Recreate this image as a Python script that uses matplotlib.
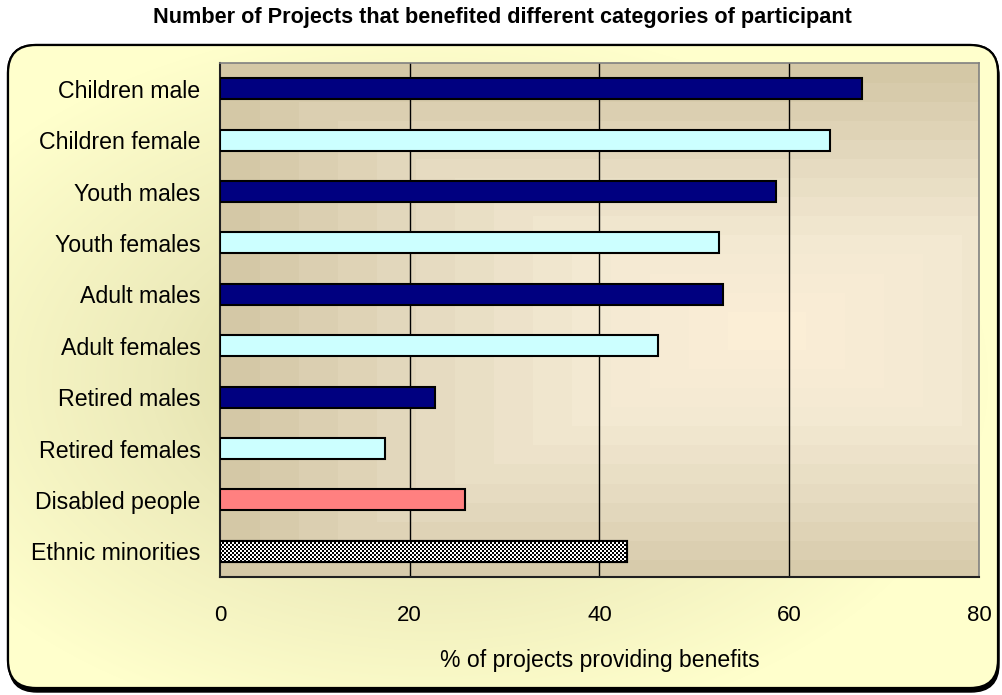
import numpy as np
import matplotlib
matplotlib.use("Agg")
import matplotlib.pyplot as plt
from matplotlib.patches import FancyBboxPatch
from matplotlib.colors import LinearSegmentedColormap

# data
categories = ["Children male", "Children female", "Youth males", "Youth females",
              "Adult males", "Adult females", "Retired males", "Retired females",
              "Disabled people", "Ethnic minorities"]
values = [67.7, 64.3, 58.6, 52.6, 53.0, 46.2, 22.7, 17.4, 25.8, 42.9]
colors = ["#000080", "#CCFFFF", "#000080", "#CCFFFF", "#000080", "#CCFFFF",
          "#000080", "#CCFFFF", "#FF8080", "white"]
x_ticks = [0, 20, 40, 60, 80]

title = "Number of Projects that benefited different categories of participant"
xlabel = "% of projects providing benefits"

W, H = 1003, 695
plt.rcParams['font.family'] = ['Liberation Sans', 'DejaVu Sans']

fig = plt.figure(figsize=(W / 100, H / 100), dpi=100)
fig.patch.set_facecolor("white")

# background axes in pixel coordinates
bg = fig.add_axes([0, 0, 1, 1])
bg.set_xlim(0, W)
bg.set_ylim(H, 0)
bg.axis("off")

# shadow + rounded frame
shadow = FancyBboxPatch((9, 48), 990, 644, boxstyle="round,pad=0,rounding_size=28",
                        facecolor="black", edgecolor="black", lw=1)
bg.add_patch(shadow)
frame = FancyBboxPatch((8, 45), 990, 643, boxstyle="round,pad=0,rounding_size=28",
                       facecolor="#FFFFCC", edgecolor="black", lw=1.6, zorder=2)
bg.add_patch(frame)

# radial gradient inside the frame
yy, xx = np.mgrid[0:H, 0:W]
r = np.sqrt(((xx - 430) / 560.0) ** 2 + ((yy - 380) / 360.0) ** 2)
r = np.clip(r, 0, 1)
cm_bg = LinearSegmentedColormap.from_list("bg", ["#D6D39C", "#EDEBBB", "#FFFFCC"])
img = bg.imshow(r, cmap=cm_bg, extent=(0, W, H, 0), zorder=3, interpolation="bilinear")
img.set_clip_path(frame)
edge = FancyBboxPatch((8, 45), 990, 643, boxstyle="round,pad=0,rounding_size=28",
                      facecolor="none", edgecolor="black", lw=1.6, zorder=4)
bg.add_patch(edge)

fig.text(502 / W, 1 - 17 / H, title, ha="center", va="center",
         fontsize=15.6, fontweight="bold")

# main plot area
left, right, top, bottom = 220, 979, 63, 577
ax = fig.add_axes([left / W, 1 - bottom / H, (right - left) / W, (bottom - top) / H])
ax.set_xlim(0, 80)
ax.set_ylim(len(categories) - 0.5, -0.5)

# stepped rectangular gradient of plot area
ny, nx = bottom - top, right - left
gy, gx = np.mgrid[0:ny, 0:nx]
cx, cy = nx * 0.72, ny * 0.52
d = np.maximum(np.abs(gx - cx) / (nx * 0.72), np.abs(gy - cy) / (ny * 0.52))
d = np.floor(np.clip(d, 0, 0.999) * 14) / 14
cm_pa = LinearSegmentedColormap.from_list("pa", ["#FBEED6", "#F3E9D2", "#E4D9BE", "#D4C8A6"])
ax.imshow(d, cmap=cm_pa, extent=(0, 80, len(categories) - 0.5, -0.5),
          aspect="auto", zorder=0, interpolation="nearest")

for xv in x_ticks[1:-1]:
    ax.axvline(xv, color="black", lw=1, zorder=1)

ypos = np.arange(len(categories))
bars = ax.barh(ypos, values, height=0.41, color=colors, edgecolor="black",
               linewidth=1.5, zorder=3)

# checkerboard fill for the last bar
last = bars[-1]
cells_x, cells_y = 204, 11
checker = (np.add.outer(np.arange(cells_y), np.arange(cells_x)) % 2).astype(float)
yb = ypos[-1]
ci = ax.imshow(checker, cmap="gray", extent=(0, values[-1], yb + 0.205, yb - 0.205),
               aspect="auto", zorder=3.5, interpolation="nearest")
ci.set_clip_path(last)
ax.barh([yb], [values[-1]], height=0.41, facecolor="none", edgecolor="black",
        linewidth=1.5, zorder=4)

ax.set_yticks(ypos)
ax.set_yticklabels(categories, fontsize=16.7)
ax.set_xticks(x_ticks)
ax.set_xticklabels([str(v) for v in x_ticks], fontsize=16)
ax.tick_params(axis="both", length=0)
ax.tick_params(axis="y", pad=14)
ax.tick_params(axis="x", pad=20)
ax.set_xlabel(xlabel, fontsize=16.6, labelpad=17)

for s in ["top", "right"]:
    ax.spines[s].set_color("#808080")
    ax.spines[s].set_linewidth(1.2)
for s in ["left", "bottom"]:
    ax.spines[s].set_color("#202020")
    ax.spines[s].set_linewidth(1.5)

fig.savefig("out.png", dpi=100)
